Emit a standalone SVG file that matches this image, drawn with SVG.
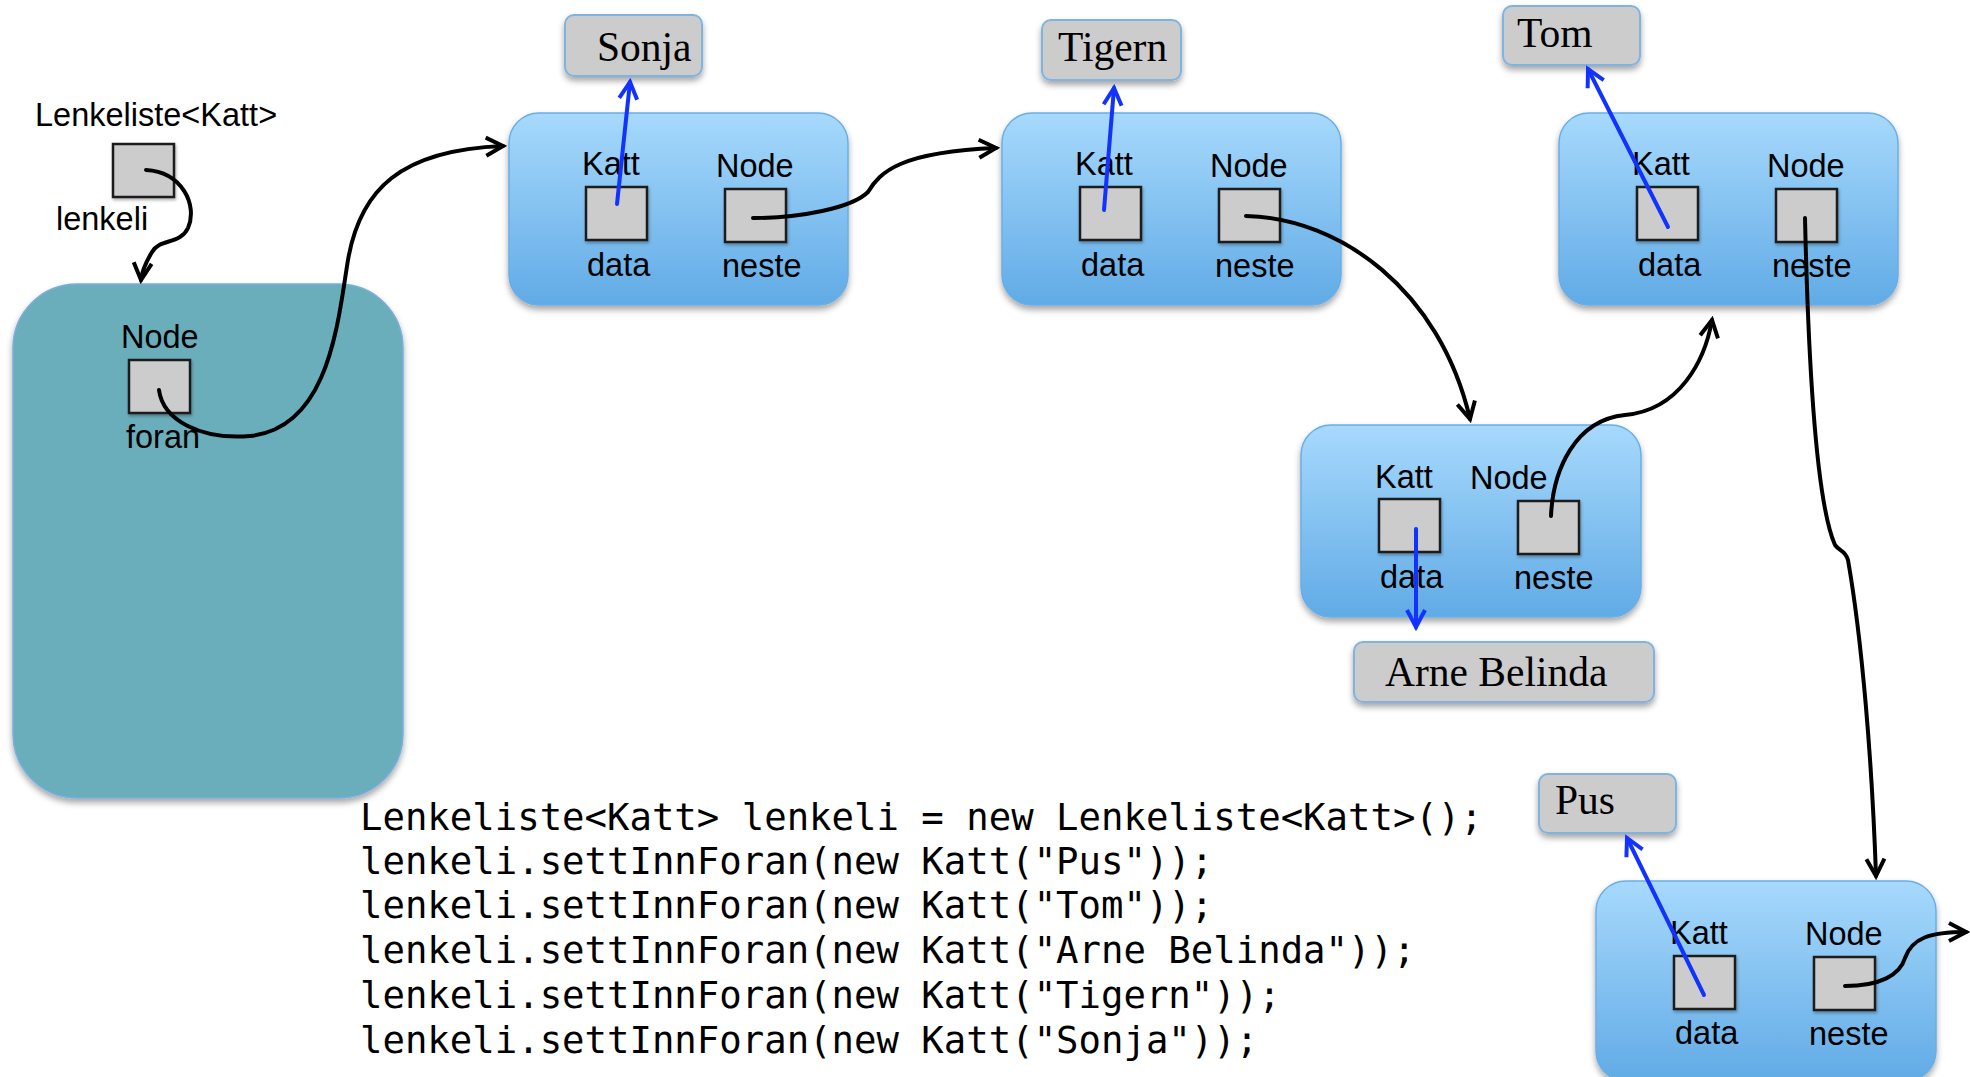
<svg xmlns="http://www.w3.org/2000/svg" width="1970" height="1077" viewBox="0 0 1970 1077">
  <defs>
    <linearGradient id="nodeFill" x1="0" y1="0" x2="0" y2="1">
      <stop offset="0" stop-color="#a7d9fc"/>
      <stop offset="1" stop-color="#61abe6"/>
    </linearGradient>
    <filter id="shadow" x="-10%" y="-10%" width="120%" height="130%">
      <feDropShadow dx="0" dy="4" stdDeviation="3" flood-color="#000" flood-opacity="0.35"/>
    </filter>
    <filter id="shadowSmall" x="-10%" y="-10%" width="130%" height="130%">
      <feDropShadow dx="1" dy="2" stdDeviation="1.5" flood-color="#000" flood-opacity="0.3"/>
    </filter>
    <marker id="arrowBlack" markerUnits="userSpaceOnUse" markerWidth="26" markerHeight="26" viewBox="0 0 26 26" refX="22" refY="13" orient="auto">
      <path d="M5,4 L22,13 L5,22" fill="none" stroke="#000" stroke-width="4" stroke-linejoin="miter"/>
    </marker>
    <marker id="arrowBlue" markerUnits="userSpaceOnUse" markerWidth="26" markerHeight="26" viewBox="0 0 26 26" refX="22" refY="13" orient="auto">
      <path d="M5,4 L22,13 L5,22" fill="none" stroke="#1233ff" stroke-width="4" stroke-linejoin="miter"/>
    </marker>
  </defs>
  <style>
    .node { fill: url(#nodeFill); stroke: #6aaee6; stroke-width: 1.5; filter: url(#shadow); }
    .cell { fill: #cccccc; stroke: #1a1a1a; stroke-width: 2.5; filter: url(#shadowSmall); }
    .label { font-family: "Liberation Sans", Arial, sans-serif; font-size: 32.5px; fill: #000; }
    .value { fill: #cccccc; stroke: #7fb3e0; stroke-width: 2; filter: url(#shadow); }
    .name { font-family: "Liberation Serif", "DejaVu Serif", serif; font-size: 41.5px; fill: #000; }
    .code { font-family: "DejaVu Sans Mono", "Liberation Mono", monospace; font-size: 37.3px; fill: #000; }
    .link { fill: none; stroke: #000; stroke-width: 4; stroke-linecap: round; marker-end: url(#arrowBlack); }
    .ref { fill: none; stroke: #1233ff; stroke-width: 4; stroke-linecap: round; marker-end: url(#arrowBlue); }
  </style>

  <rect width="1970" height="1077" fill="#ffffff"/>

  <!-- list variable -->
  <g id="lenkeli">
    <text class="label" x="35" y="126">Lenkeliste&lt;Katt&gt;</text>
    <rect class="cell" x="113" y="144" width="61" height="53"/>
    <text class="label" x="56" y="230">lenkeli</text>
  </g>

  <!-- list object with head pointer -->
  <g id="liste">
    <rect x="13" y="284" width="390" height="514" rx="64" ry="64" fill="#6aaebc" stroke="#79aee0" stroke-width="1.5" filter="url(#shadow)"/>
    <text class="label" x="121" y="348">Node</text>
    <rect class="cell" x="129" y="360" width="61" height="53"/>
    <text class="label" x="126" y="448">foran</text>
  </g>

  <!-- value boxes -->
  <g id="sonja">
    <rect class="value" x="565" y="15" width="137" height="61" rx="9"/>
    <text class="name" x="597" y="61">Sonja</text>
  </g>
  <g id="tigern">
    <rect class="value" x="1042" y="20" width="139" height="60" rx="9"/>
    <text class="name" x="1058" y="61">Tigern</text>
  </g>
  <g id="tom">
    <rect class="value" x="1503" y="6" width="137" height="59" rx="9"/>
    <text class="name" x="1517" y="47">Tom</text>
  </g>
  <g id="arne-belinda">
    <rect class="value" x="1354" y="642" width="300" height="60" rx="9"/>
    <text class="name" x="1385" y="686">Arne Belinda</text>
  </g>
  <g id="pus">
    <rect class="value" x="1539" y="774" width="137" height="59" rx="9"/>
    <text class="name" x="1555" y="814">Pus</text>
  </g>

  <!-- node 1 -->
  <g id="node1">
    <rect class="node" x="509" y="113" width="339" height="192" rx="30"/>
    <text class="label" x="582" y="175">Katt</text>
    <text class="label" x="716" y="177">Node</text>
    <rect class="cell" x="586" y="187" width="61" height="53"/>
    <rect class="cell" x="725" y="189" width="61" height="53"/>
    <text class="label" x="587" y="276">data</text>
    <text class="label" x="722" y="277">neste</text>
  </g>

  <!-- node 2 -->
  <g id="node2">
    <rect class="node" x="1002" y="113" width="339" height="192" rx="30"/>
    <text class="label" x="1075" y="175">Katt</text>
    <text class="label" x="1210" y="177">Node</text>
    <rect class="cell" x="1080" y="187" width="61" height="53"/>
    <rect class="cell" x="1219" y="189" width="61" height="53"/>
    <text class="label" x="1081" y="276">data</text>
    <text class="label" x="1215" y="277">neste</text>
  </g>

  <!-- node 3 -->
  <g id="node3">
    <rect class="node" x="1559" y="113" width="339" height="192" rx="30"/>
    <text class="label" x="1632" y="175">Katt</text>
    <text class="label" x="1767" y="177">Node</text>
    <rect class="cell" x="1637" y="187" width="61" height="53"/>
    <rect class="cell" x="1776" y="189" width="61" height="53"/>
    <text class="label" x="1638" y="276">data</text>
    <text class="label" x="1772" y="277">neste</text>
  </g>

  <!-- node 4 -->
  <g id="node4">
    <rect class="node" x="1301" y="425" width="340" height="192" rx="30"/>
    <text class="label" x="1375" y="488">Katt</text>
    <text class="label" x="1470" y="489">Node</text>
    <rect class="cell" x="1379" y="499" width="61" height="53"/>
    <rect class="cell" x="1518" y="501" width="61" height="53"/>
    <text class="label" x="1380" y="588">data</text>
    <text class="label" x="1514" y="589">neste</text>
  </g>

  <!-- node 5 -->
  <g id="node5">
    <rect class="node" x="1596" y="881" width="340" height="200" rx="30"/>
    <text class="label" x="1670" y="944">Katt</text>
    <text class="label" x="1805" y="945">Node</text>
    <rect class="cell" x="1674" y="956" width="61" height="53"/>
    <rect class="cell" x="1814" y="957" width="61" height="53"/>
    <text class="label" x="1675" y="1044">data</text>
    <text class="label" x="1809" y="1045">neste</text>
  </g>

  <!-- pointers -->
  <g id="connectors">
    <path class="link" d="M146,170 C182,172 198,205 188,228 C180,245 160,238 152,252 C146,262 142,270 141,280"/>
    <path class="link" d="M159,390 C163,420 200,440 250,436 C330,428 338,320 348,260 C360,190 400,150 503,146"/>
    <path class="link" d="M753,218 C800,218 852,208 868,192 C880,172 900,152 996,148"/>
    <path class="link" d="M1246,216 C1340,218 1440,290 1470,419"/>
    <path class="link" d="M1551,516 C1553,470 1575,420 1625,415 C1680,410 1705,360 1712,320"/>
    <path class="link" d="M1805,218 C1808,350 1815,500 1835,545 C1840,552 1845,550 1848,560 C1862,640 1872,760 1876,876"/>
    <path class="link" d="M1845,986 C1880,986 1900,975 1905,958 C1912,938 1930,932 1966,932"/>

    <line class="ref" x1="617" y1="204" x2="630" y2="82"/>
    <line class="ref" x1="1104" y1="210" x2="1114" y2="88"/>
    <line class="ref" x1="1668" y1="227" x2="1588" y2="69"/>
    <line class="ref" x1="1416" y1="529" x2="1416" y2="627"/>
    <line class="ref" x1="1704" y1="995" x2="1627" y2="838"/>
  </g>

  <!-- source code -->
  <g id="code">
    <text class="code" x="360" y="830">Lenkeliste&lt;Katt&gt; lenkeli = new Lenkeliste&lt;Katt&gt;();</text>
    <text class="code" x="360" y="874">lenkeli.settInnForan(new Katt("Pus"));</text>
    <text class="code" x="360" y="918">lenkeli.settInnForan(new Katt("Tom"));</text>
    <text class="code" x="360" y="963">lenkeli.settInnForan(new Katt("Arne Belinda"));</text>
    <text class="code" x="360" y="1008">lenkeli.settInnForan(new Katt("Tigern"));</text>
    <text class="code" x="360" y="1053">lenkeli.settInnForan(new Katt("Sonja"));</text>
  </g>
</svg>
